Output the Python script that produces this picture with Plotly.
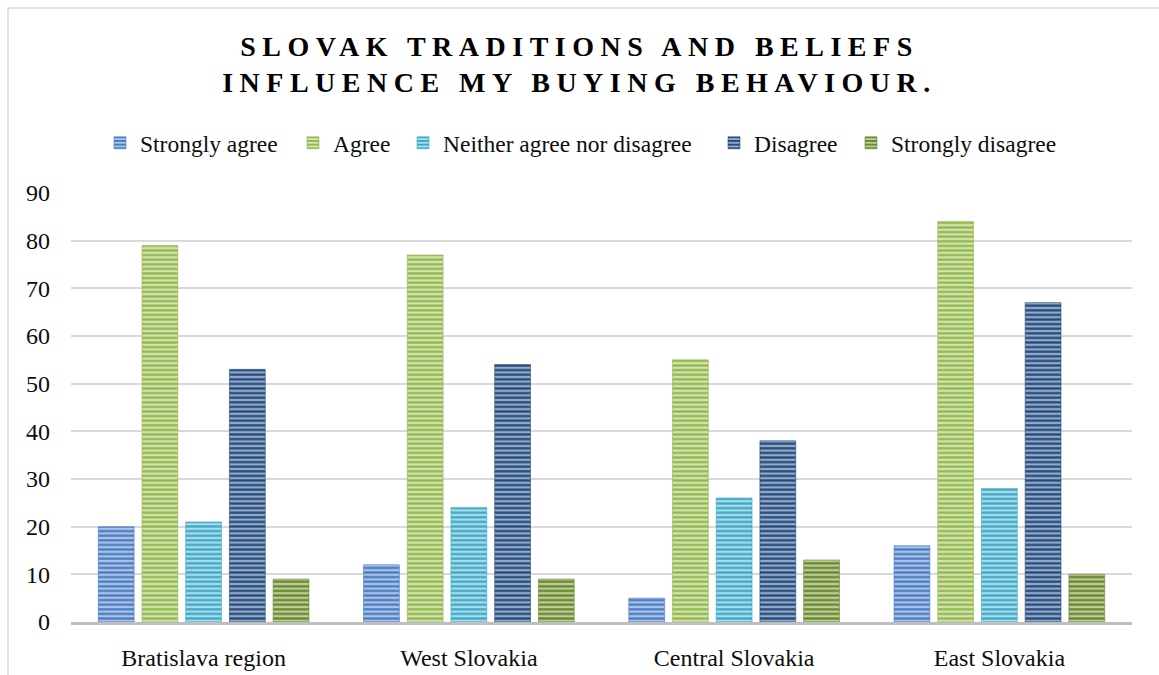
import plotly.graph_objects as go

# Survey answers by region
regions = ["Bratislava region", "West Slovakia", "Central Slovakia", "East Slovakia"]
strongly_agree = [20, 12, 5, 16]
agree = [79, 77, 55, 84]
neither = [21, 24, 26, 28]
disagree = [53, 54, 38, 67]
strongly_disagree = [9, 9, 13, 10]

series_names = ["Strongly agree", "Agree", "Neither agree nor disagree",
                "Disagree", "Strongly disagree"]
y_ticks = [0, 10, 20, 30, 40, 50, 60, 70, 80, 90]

series_values = [strongly_agree, agree, neither, disagree, strongly_disagree]
# (stripe colour, light stripe colour)
palette = [
    ("#4a7cc0", "#aac3e8"),
    ("#93b752", "#d4e4ad"),
    ("#3fa8c4", "#a9dceb"),
    ("#264a78", "#93aacb"),
    ("#6a8533", "#bccf94"),
]

W, H = 1159, 675
L, R, T, B = 71, 27, 193, 53
plot_w = W - L - R
plot_h = H - T - B

FONT = "Liberation Serif"
INK = "#0d0d0d"

# left edge (px) of each legend entry, spread across one row
legend_left_px = [100, 293, 403, 714, 851]
legend_keys = ["legend"] + [f"legend{i}" for i in range(2, 6)]

fig = go.Figure()
for name, vals, (dark, light), key in zip(series_names, series_values,
                                         palette, legend_keys):
    fig.add_trace(go.Bar(
        name=name,
        x=regions,
        y=vals,
        legend=key,
        marker=dict(
            color=dark,
            line=dict(color=dark, width=0.6),
            pattern=dict(shape="-", size=4.6, solidity=0.5,
                         fgcolor=dark, bgcolor=light, fillmode="replace"),
        ),
    ))

legend_layouts = {}
for key, px in zip(legend_keys, legend_left_px):
    legend_layouts[key] = dict(
        orientation="h", x=(px - L) / plot_w, xanchor="left",
        y=(H - B - 143) / plot_h, yanchor="middle",
        font=dict(family=FONT, size=23.5, color=INK),
        itemwidth=30, bgcolor="rgba(0,0,0,0)", borderwidth=0,
    )

fig.update_layout(
    width=W, height=H,
    margin=dict(l=L, r=R, t=T, b=B, pad=0),
    paper_bgcolor="white", plot_bgcolor="white",
    barmode="group", bargap=0.176, bargroupgap=0.18,
    font=dict(family=FONT, size=24, color=INK),
    title=dict(
        text="SLOVAK TRADITIONS AND BELIEFS<br>INFLUENCE MY BUYING BEHAVIOUR.",
        x=0.5, xanchor="center", xref="container",
        y=1 - 56 / H, yanchor="top", yref="container",
        font=dict(family=FONT, size=28, color="#000000", weight="bold"),
    ),
    showlegend=True,
    xaxis=dict(
        type="category", showgrid=False, zeroline=False, automargin=False,
        showline=True, linecolor="#bfbfbf", linewidth=3,
        ticks="", ticklabelstandoff=12,
        tickfont=dict(family=FONT, size=24, color=INK),
    ),
    yaxis=dict(
        range=[0, 90], tickvals=y_ticks, ticktext=[str(v) for v in y_ticks],
        showgrid=True, gridcolor="#d9d9d9", gridwidth=1.5, automargin=False,
        zeroline=False, showline=False, ticks="",
        ticklabelstandoff=20,
        tickfont=dict(family=FONT, size=24, color=INK),
    ),
    shapes=[dict(
        type="rect", xref="paper", yref="paper",
        x0=(8 - L) / plot_w, x1=(W + 10 - L) / plot_w,
        y0=(H - B - (H + 10)) / plot_h, y1=(H - B - 8) / plot_h,
        line=dict(color="#d9d9d9", width=1.5), fillcolor="rgba(0,0,0,0)",
        layer="below",
    )],
    **legend_layouts,
)

# Widen the title's letter spacing
spacing_css = (
    "var s=document.createElement('style');"
    "s.textContent='.gtitle{letter-spacing:6.5px;}';"
    "document.head.appendChild(s);"
)

fig.write_html("out.html", post_script=spacing_css)
